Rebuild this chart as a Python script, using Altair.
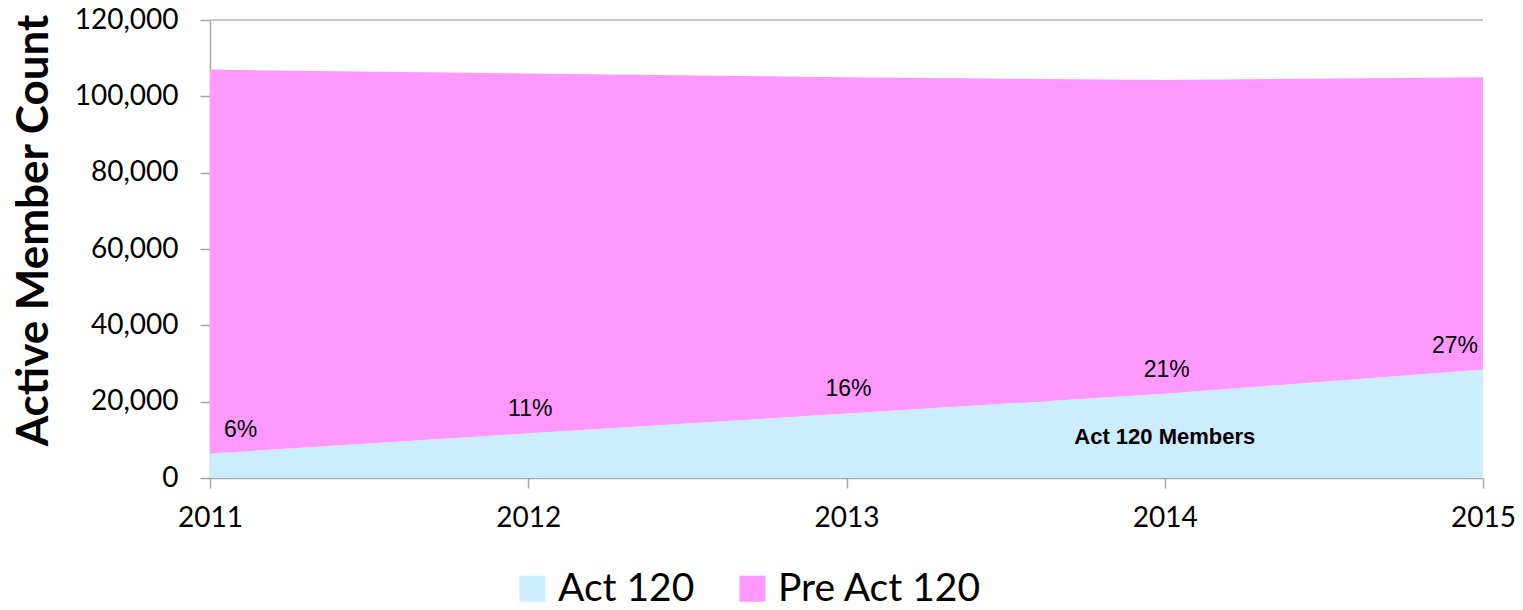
import altair as alt
import pandas as pd

# Active members by year, split into Act 120 and pre-Act 120 tiers
years = [2011, 2012, 2013, 2014, 2015]
act120 = [6400, 11700, 16900, 22100, 28400]
pre_act120 = [100600, 94300, 88100, 82200, 76600]

series = ["Act 120", "Pre Act 120"]
colors = ["#CCECFF", "#FF99FF"]
y_ticks = [0, 20000, 40000, 60000, 80000, 100000, 120000]

rows = []
for yr, a, p in zip(years, act120, pre_act120):
    rows.append({"year": yr, "series": series[0], "count": a, "order": 0})
    rows.append({"year": yr, "series": series[1], "count": p, "order": 1})
long_df = pd.DataFrame(rows)
share_df = pd.DataFrame({"year": years, "act": act120, "pre": pre_act120})

AXIS_GREY = "#a6a6a6"
x_scale = alt.Scale(domain=[years[0], years[-1]], nice=False, zero=False)
y_scale = alt.Scale(domain=[y_ticks[0], y_ticks[-1]], nice=False)

x_axis = alt.Axis(
    values=years,
    format="d",
    labelExpr="format(datum.value, 'd')",
    title=None,
    labelPadding=16,
    labelFlush=False,
)
y_axis = alt.Axis(
    values=y_ticks,
    format=",.0f",
    labelExpr="format(datum.value, ',.0f')",
    title="Active Member Count",
    labelPadding=22,
    labelFlush=False,
    titleFont="Lato",
    titleFontWeight="bold",
    titleFontSize=44,
    titleColor="black",
    titleX=-154,
    titleY=210,
    titleBaseline="bottom",
)

# horizontal gridlines, drawn underneath the areas
grid = alt.Chart(pd.DataFrame({"v": y_ticks[1:]})).mark_rule(
    color="#b3b3b3", strokeWidth=1.5
).encode(y=alt.Y("v:Q", scale=y_scale, axis=y_axis))

area = alt.Chart(long_df).mark_area(opacity=1).encode(
    x=alt.X("year:Q", scale=x_scale, axis=x_axis),
    y=alt.Y("count:Q", stack="zero", scale=y_scale, axis=y_axis),
    color=alt.Color(
        "series:N",
        scale=alt.Scale(domain=series, range=colors),
        legend=alt.Legend(
            title=None,
            orient="none",
            legendX=303,
            legendY=549,
            direction="horizontal",
            symbolType="square",
            symbolSize=676,
            symbolStrokeWidth=0,
            symbolOpacity=1,
            labelFont="Lato",
            labelFontSize=39,
            labelColor="black",
            labelOffset=6,
            labelLimit=0,
            columnPadding=38,
            padding=0,
        ),
    ),
    order=alt.Order("order:Q", sort="ascending"),
)

# share of Act 120 members, printed just above the Act 120 band
share = alt.Chart(share_df).transform_calculate(
    pct="round(100 * datum.act / (datum.act + datum.pre)) + '%'"
)


def pct_labels(test, align, dx):
    return share.transform_filter(test).mark_text(
        font="Liberation Sans",
        fontSize=23,
        color="black",
        align=align,
        baseline="middle",
        dx=dx,
        dy=-24,
    ).encode(
        x=alt.X("year:Q", scale=x_scale, axis=x_axis),
        y=alt.Y("act:Q", scale=y_scale, axis=y_axis),
        text="pct:N",
    )


first_lbl = pct_labels(f"datum.year == {years[0]}", "left", 14)
mid_lbl = pct_labels(
    f"datum.year > {years[0]} && datum.year < {years[-1]}", "center", 2
)
last_lbl = pct_labels(f"datum.year == {years[-1]}", "right", -5)

band_note = alt.Chart(pd.DataFrame({"t": ["Act 120 Members"]})).mark_text(
    font="Liberation Sans",
    fontSize=22,
    fontWeight="bold",
    color="black",
    align="center",
    baseline="middle",
).encode(
    x=alt.XDatum(2014, axis=x_axis),
    y=alt.YDatum(10700, axis=y_axis),
    text="t:N",
)

chart = (
    alt.layer(grid, area, first_lbl, mid_lbl, last_lbl, band_note)
    .properties(
        width=1273,
        height=458,
        padding={"left": 210, "top": 20, "right": 40, "bottom": 132},
        autosize=alt.AutoSizeParams(type="none"),
        background="white",
    )
    .configure_view(stroke=None)
    .configure_axis(
        domainColor=AXIS_GREY,
        domainWidth=1.5,
        tickColor=AXIS_GREY,
        tickWidth=1.5,
        tickSize=10,
        labelFont="Lato",
        labelFontSize=28,
        labelColor="black",
        grid=False,
        zindex=1,
    )
)

chart.save("out.html", embed_options={"renderer": "svg", "actions": False})
